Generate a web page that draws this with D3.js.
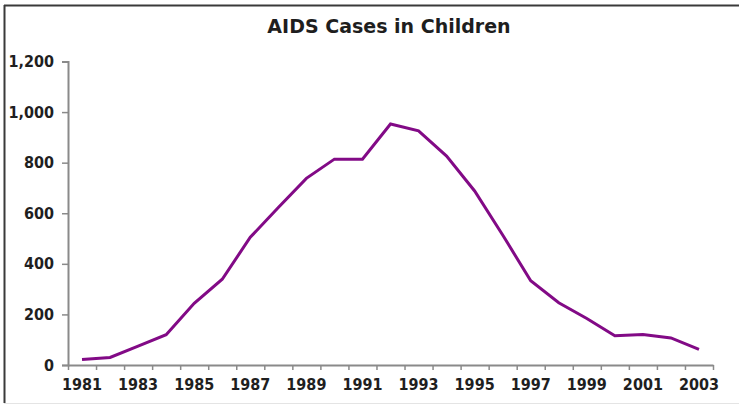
<!DOCTYPE html>
<html>
<head>
<meta charset="utf-8">
<script src="https://cdn.jsdelivr.net/npm/d3@7"></script>
<style>
  html, body { margin: 0; padding: 0; background: #fff; }
  svg { display: block; }
</style>
</head>
<body>
<svg id="chart" width="739" height="405"></svg>
<script>
// Pediatric AIDS cases by year of diagnosis
const years = [1981, 1982, 1983, 1984, 1985, 1986, 1987, 1988, 1989, 1990, 1991, 1992,
               1993, 1994, 1995, 1996, 1997, 1998, 1999, 2000, 2001, 2002, 2003];
const cases = [22, 30, 75, 120, 244, 339, 505, 623, 738, 814, 814, 953,
               926, 826, 688, 514, 333, 246, 184, 116, 121, 107, 62];
const yTicks = [0, 200, 400, 600, 800, 1000, 1200];
const xLabelYears = [1981, 1983, 1985, 1987, 1989, 1991, 1993, 1995, 1997, 1999, 2001, 2003];
const title = "AIDS Cases in Children";

const svg = d3.select("#chart");
const W = 739, H = 405;
const plotLeft = 68, plotRight = 713, plotTop = 61.5, plotBottom = 365;
const font = "'DejaVu Sans', Verdana, sans-serif";
const labelFont = "'DejaVu Sans Condensed', 'DejaVu Sans', sans-serif";

// outer frame (top and left edges)
svg.append("line").attr("x1", 4).attr("x2", W).attr("y1", 5.5).attr("y2", 5.5)
  .attr("stroke", "#3a3a3a").attr("stroke-width", 2);
svg.append("line").attr("x1", 4.5).attr("x2", 4.5).attr("y1", 5).attr("y2", 403)
  .attr("stroke", "#3a3a3a").attr("stroke-width", 2);
svg.append("line").attr("x1", 4).attr("x2", W).attr("y1", 403.5).attr("y2", 403.5)
  .attr("stroke", "#e4e4e4").attr("stroke-width", 1);

// title
svg.append("text")
  .attr("x", 389).attr("y", 33)
  .attr("text-anchor", "middle")
  .attr("font-family", font).attr("font-weight", "bold").attr("font-size", 19)
  .attr("fill", "#1e1e1e")
  .text(title);

// scales
const x = d3.scaleBand().domain(years).range([plotLeft, plotRight]).padding(0);
const xEdges = d3.scaleLinear().domain([years[0], years[years.length - 1] + 1]).range([plotLeft, plotRight]);
const y = d3.scaleLinear().domain([0, 1200]).range([plotBottom, plotTop]);

const axisColor = "#8a8a8a";
const labelColor = "#1f1f1f";

// y axis
const yAxis = svg.append("g")
  .attr("transform", `translate(${plotLeft},0)`)
  .call(d3.axisLeft(y).tickValues(yTicks).tickFormat(d3.format(",")).tickSize(6).tickPadding(8));
yAxis.select(".domain").attr("stroke", axisColor).attr("stroke-width", 2);
yAxis.selectAll(".tick line").attr("stroke", axisColor).attr("stroke-width", 1.5);
yAxis.selectAll(".tick text")
  .attr("font-family", labelFont).attr("font-weight", "bold").attr("font-size", 16)
  .attr("fill", labelColor);

// x axis: tick marks on category boundaries
const xTickAxis = svg.append("g")
  .attr("transform", `translate(0,${plotBottom})`)
  .call(d3.axisBottom(xEdges)
    .tickValues(d3.range(years[0], years[years.length - 1] + 2))
    .tickFormat("").tickSizeInner(5).tickSizeOuter(0));
xTickAxis.select(".domain").attr("stroke", axisColor).attr("stroke-width", 2);
xTickAxis.selectAll(".tick line").attr("stroke", axisColor).attr("stroke-width", 1.5);

// x axis: year labels centred on categories
const xLabelAxis = svg.append("g")
  .attr("transform", `translate(0,${plotBottom})`)
  .call(d3.axisBottom(x).tickValues(xLabelYears).tickSize(0).tickPadding(14));
xLabelAxis.select(".domain").remove();
xLabelAxis.selectAll(".tick text")
  .attr("font-family", labelFont).attr("font-weight", "bold").attr("font-size", 16)
  .attr("fill", labelColor);

// data line
const line = d3.line()
  .x((d, i) => x(years[i]) + x.bandwidth() / 2)
  .y(d => y(d));

svg.append("path")
  .datum(cases)
  .attr("d", line)
  .attr("fill", "none")
  .attr("stroke", "#820a86")
  .attr("stroke-width", 3)
  .attr("stroke-linejoin", "miter");
</script>
</body>
</html>
